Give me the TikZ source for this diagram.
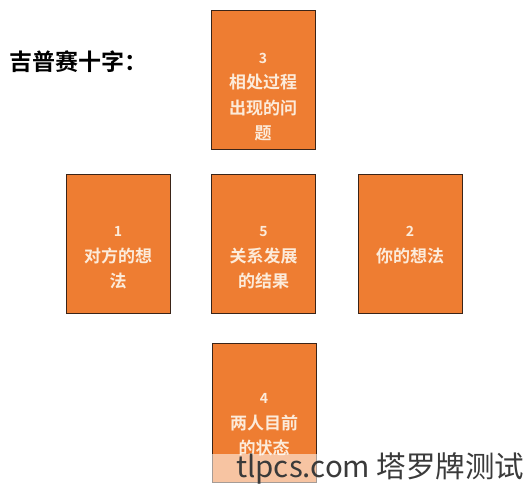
\documentclass[tikz,border=0pt]{standalone}
\usepackage{fontspec}
\newfontfamily\cjk{Noto Sans CJK SC}
\newfontfamily\cjkb{Noto Sans CJK SC Bold}
\definecolor{cardorange}{HTML}{EE7D32}
\definecolor{cardedge}{HTML}{3A2418}
\definecolor{cardtext}{HTML}{FCEBDA}
\definecolor{wmtext}{HTML}{3A3A3A}
\newcommand{\cnum}[1]{{\fontsize{14}{25.5}\selectfont #1}}
\begin{document}
\begin{tikzpicture}[x=1pt,y=-1pt,
  card/.style={draw=cardedge,line width=1.4pt,fill=cardorange,minimum width=104pt,minimum height=139pt,inner sep=0pt,anchor=north west},
  cardtxt/.style={text=cardtext,align=center,inner sep=0pt,font=\cjkb\fontsize{17}{25.5}\selectfont}
]
\useasboundingbox (0,0) rectangle (525,500);
\fill[white] (0,0) rectangle (525,500);
\node[anchor=west,inner sep=0pt,font=\cjkb\fontsize{23}{26}\selectfont] (title) at (9,62) {吉普赛十字：};

\node[card] (c3) at (211,10) {};
\node[card] (c1) at (66,174) {};
\node[card] (c5) at (211,174) {};
\node[card] (c2) at (358,174) {};
\node[card] (c4) at (212,343) {};

\node[cardtxt] (t3) at (263,97) {\cnum{3}\\相处过程\\出现的问\\题};
\node[cardtxt] (t1) at (118,258) {\cnum{1}\\对方的想\\法};
\node[cardtxt] (t5) at (263.5,258) {\cnum{5}\\关系发展\\的结果};
\node[cardtxt] (t2) at (410,245) {\cnum{2}\\你的想法};
\node[cardtxt] (t4) at (264,425) {\cnum{4}\\两人目前\\的状态};

\fill[white,opacity=0.55] (211,454) rectangle (525,484);
\node[anchor=base west,inner sep=0pt,text=wmtext,font=\cjk\fontsize{29.5}{30}\selectfont] (wm) at (236,477) {tlpcs.com 塔罗牌测试};
\end{tikzpicture}
\end{document}
